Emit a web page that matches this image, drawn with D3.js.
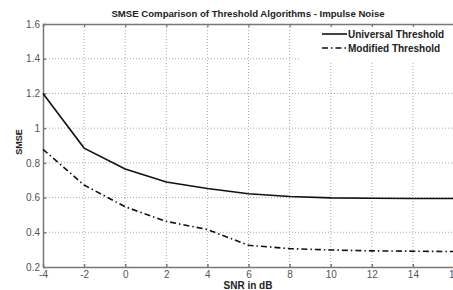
<!DOCTYPE html>
<html>
<head>
<meta charset="utf-8">
<script src="https://cdn.jsdelivr.net/npm/d3@7"></script>
<style>
  body { margin: 0; background: #fff; }
  svg { display: block; font-family: "Liberation Sans", Arial, sans-serif; }
</style>
</head>
<body>
<svg id="chart" width="453" height="290"></svg>
<script>
const snr = [-4, -2, 0, 2, 4, 6, 8, 10, 12, 14, 16];
const universal = [1.2, 0.885, 0.765, 0.69, 0.652, 0.622, 0.606, 0.598, 0.596, 0.595, 0.595];
const modified = [0.878, 0.672, 0.547, 0.463, 0.416, 0.325, 0.306, 0.298, 0.293, 0.291, 0.289];
const xTicks = [-4, -2, 0, 2, 4, 6, 8, 10, 12, 14, 16];
const yTicks = [0.2, 0.4, 0.6, 0.8, 1, 1.2, 1.4, 1.6];
const seriesNames = ["Universal Threshold", "Modified Threshold"];

const svg = d3.select("#chart"),
      plotLeft = 43, plotRight = 454, plotTop = 24, plotBottom = 267;

const x = d3.scaleLinear().domain([-4, 16]).range([plotLeft, plotRight]);
const y = d3.scaleLinear().domain([0.2, 1.6]).range([plotBottom, plotTop]);

// grid
svg.append("g")
  .selectAll("line")
  .data(xTicks.slice(1))
  .join("line")
  .attr("x1", d => x(d)).attr("x2", d => x(d))
  .attr("y1", plotTop).attr("y2", plotBottom)
  .attr("stroke", "#aaa").attr("stroke-dasharray", "1,2");

svg.append("g")
  .selectAll("line")
  .data(yTicks.slice(1, -1))
  .join("line")
  .attr("x1", plotLeft).attr("x2", plotRight)
  .attr("y1", d => y(d)).attr("y2", d => y(d))
  .attr("stroke", "#aaa").attr("stroke-dasharray", "1,2");

// top border with ticks
svg.append("g")
  .attr("transform", `translate(0,${plotTop})`)
  .call(d3.axisTop(x).tickValues(xTicks).tickSize(-3).tickFormat(""))
  .call(g => g.selectAll("path, line").attr("stroke", "#777").attr("stroke-width", 1.3));

const xAxis = svg.append("g")
  .attr("transform", `translate(0,${plotBottom})`)
  .call(d3.axisBottom(x).tickValues(xTicks).tickSize(-3).tickSizeOuter(0).tickPadding(4)
    .tickFormat(d => String(d)));
xAxis.selectAll("path, line").attr("stroke", "#777").attr("stroke-width", 1.5);
xAxis.selectAll("text").attr("fill", "#555").attr("font-size", 10).attr("font-family", null);

const yAxis = svg.append("g")
  .attr("transform", `translate(${plotLeft},0)`)
  .call(d3.axisLeft(y).tickValues(yTicks).tickSize(-3).tickSizeOuter(0).tickPadding(3)
    .tickFormat(d => String(+d.toFixed(1))));
yAxis.selectAll("path, line").attr("stroke", "#777").attr("stroke-width", 1.5);
yAxis.selectAll("text").attr("fill", "#555").attr("font-size", 10).attr("font-family", null);

// lines
const line = d3.line().x((d, i) => x(snr[i])).y(d => y(d));

svg.append("path")
  .datum(universal)
  .attr("d", line)
  .attr("fill", "none").attr("stroke", "#111").attr("stroke-width", 1.6);

svg.append("path")
  .datum(modified)
  .attr("d", line)
  .attr("fill", "none").attr("stroke", "#111").attr("stroke-width", 1.6)
  .attr("stroke-dasharray", "6,3,1.5,3");

// legend
const legend = svg.append("g");
legend.append("rect")
  .attr("x", 300).attr("y", 27).attr("width", 152).attr("height", 35)
  .attr("fill", "#fff");
seriesNames.forEach((name, i) => {
  const ly = 34 + i * 14;
  legend.append("line")
    .attr("x1", 322).attr("x2", 347).attr("y1", ly).attr("y2", ly)
    .attr("stroke", "#111").attr("stroke-width", 1.6)
    .attr("stroke-dasharray", i ? "6,3,1.5,3" : null);
  legend.append("text")
    .attr("x", 348).attr("y", ly + 3.5)
    .attr("font-size", 10).attr("font-weight", "bold").attr("fill", "#222")
    .text(name);
});

// titles
svg.append("text")
  .attr("x", 248).attr("y", 17).attr("text-anchor", "middle")
  .attr("font-size", 9.6).attr("font-weight", "bold").attr("fill", "#222")
  .text("SMSE Comparison of Threshold Algorithms - Impulse Noise");

svg.append("text")
  .attr("x", 248).attr("y", 289).attr("text-anchor", "middle")
  .attr("font-size", 10).attr("font-weight", "bold").attr("fill", "#222")
  .text("SNR in dB");

svg.append("text")
  .attr("transform", "translate(22,142) rotate(-90)")
  .attr("text-anchor", "middle")
  .attr("font-size", 9).attr("font-weight", "bold").attr("fill", "#222")
  .text("SMSE");
</script>
</body>
</html>
